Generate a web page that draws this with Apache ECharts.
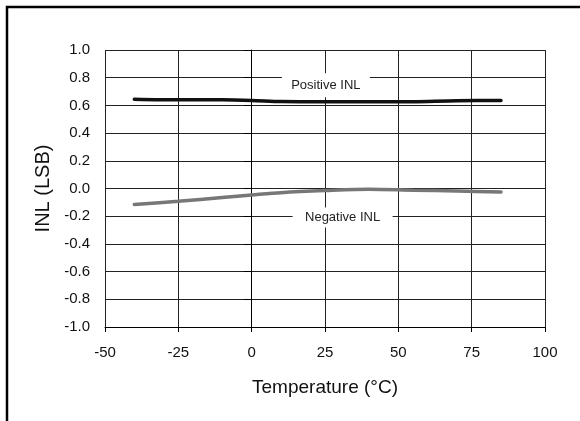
<!DOCTYPE html>
<html lang="en">

<head>
  <meta charset="UTF-8">
  <title>INL vs Temperature</title>
  <style>
    html, body { margin: 0; padding: 0; background: #fff; }
    #main { width: 580px; height: 421px; }
  </style>
</head>

<body>
  <div id="main"></div>
  <script src="https://cdn.jsdelivr.net/npm/echarts@6/dist/echarts.min.js"></script>
  <script>
    // 温度点 (°C)
    const temps = [-40, -25, -10, 0, 10, 25, 40, 55, 70, 85];
    // 正 INL / 负 INL (LSB)
    const positiveINL = [0.645, 0.64, 0.64, 0.636, 0.628, 0.626, 0.626, 0.627, 0.634, 0.635];
    const negativeINL = [-0.115, -0.092, -0.065, -0.047, -0.03, -0.015, -0.005, -0.012, -0.018, -0.025];
    // 曲线标注位置 [温度, INL]
    const posLabelAt = [25.3, 0.745];
    const negLabelAt = [31, -0.21];

    const font = "'Liberation Sans', Arial, sans-serif";
    const myChart = echarts.init(document.getElementById('main'));

    const pair = (xs, ys) => xs.map((x, i) => [x, ys[i]]);

    const option = {
      animation: false,
      backgroundColor: '#fff',
      grid: { left: 105, right: 35, top: 50, bottom: 94 },
      xAxis: {
        type: 'value', min: -50, max: 100, interval: 25,
        name: 'Temperature (°C)', nameLocation: 'middle', nameGap: 51,
        nameTextStyle: { fontFamily: font, fontSize: 19, color: '#111' },
        axisLine: { onZero: false, lineStyle: { color: '#000', width: 1 } },
        axisTick: { show: true, length: 5, lineStyle: { color: '#000' } },
        axisLabel: { fontFamily: font, fontSize: 15, color: '#111', margin: 18 },
        splitLine: { show: true, lineStyle: { color: '#222', width: 1 } }
      },
      yAxis: {
        type: 'value', min: -1, max: 1, interval: 0.2,
        name: 'INL (LSB)', nameLocation: 'middle', nameGap: 50,
        nameTextStyle: { fontFamily: font, fontSize: 20, color: '#111' },
        axisLine: { show: true, lineStyle: { color: '#000', width: 1 } },
        axisTick: { show: true, length: 8, lineStyle: { color: '#000' } },
        axisLabel: {
          fontFamily: font, fontSize: 15, color: '#111', margin: 15,
          formatter: v => v.toFixed(1)
        },
        splitLine: { show: true, lineStyle: { color: '#222', width: 1 } }
      },
      series: [
        {
          type: 'line', data: pair(temps, positiveINL), smooth: 0.3,
          showSymbol: false,
          lineStyle: { color: '#111', width: 3.5, cap: 'round' },
          markPoint: {
            symbol: 'rect', symbolSize: [88, 24],
            itemStyle: { color: '#fff' },
            label: { show: true, formatter: 'Positive INL', fontFamily: font, fontSize: 13, color: '#222' },
            data: [{ coord: posLabelAt }]
          }
        },
        {
          type: 'line', data: pair(temps, negativeINL), smooth: 0.3,
          showSymbol: false,
          lineStyle: { color: '#777', width: 3.5, cap: 'round' },
          markPoint: {
            symbol: 'rect', symbolSize: [100, 20],
            itemStyle: { color: '#fff' },
            label: { show: true, formatter: 'Negative INL', fontFamily: font, fontSize: 13, color: '#222' },
            data: [{ coord: negLabelAt }]
          }
        }
      ],
      // 外框（上边与左边）
      graphic: [{
        type: 'polyline',
        shape: { points: [[7, 421], [7, 7], [580, 7]] },
        style: { stroke: '#000', lineWidth: 2.5, fill: null }
      }]
    };

    myChart.setOption(option);
  </script>
</body>

</html>
